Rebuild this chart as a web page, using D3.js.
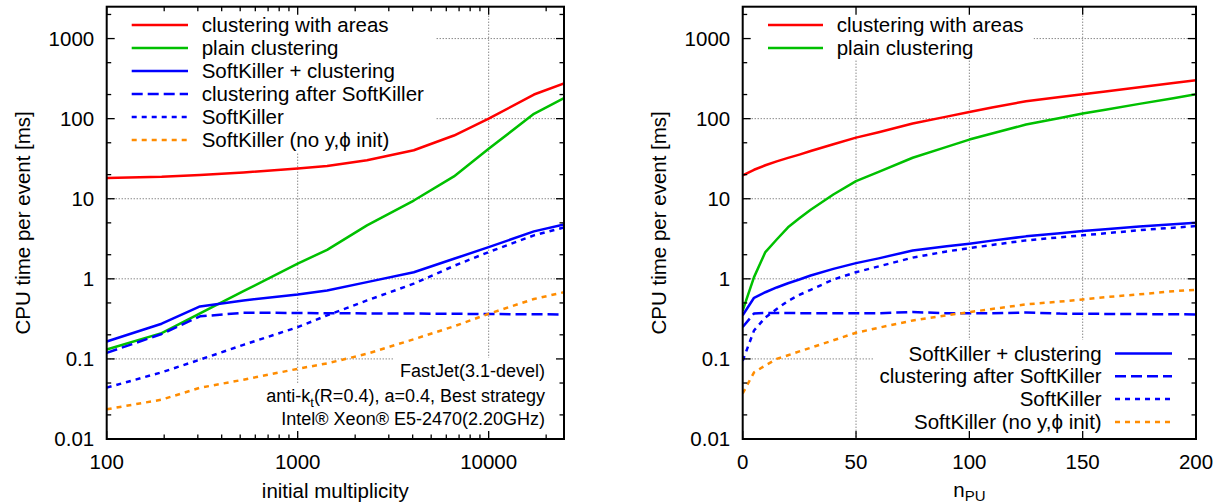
<!DOCTYPE html>
<html><head><meta charset="utf-8">
<script src="https://cdn.jsdelivr.net/npm/d3@7"></script>
<style>
body{margin:0;background:#fff}
svg{display:block}
text{font-family:"Liberation Sans",Arial,Helvetica,sans-serif;fill:#000}
</style>
</head><body>
<svg id="c" width="1228" height="504"></svg>
<script>
// ---------------- data: left panel (vs initial multiplicity) ----------------
const multiplicity   = [100, 194, 308, 520, 1000, 1426, 2306, 4055, 6580, 10000, 17260, 24800];
const leftAreas      = [18.2, 18.8, 19.8, 21.3, 23.8, 25.6, 30.2, 40.3, 61.6, 100, 200, 275];
const leftPlain      = [0.131, 0.21, 0.37, 0.70, 1.55, 2.3, 4.65, 9.5, 19, 42, 115, 180];
const leftSKClust    = [0.165, 0.275, 0.452, 0.537, 0.638, 0.716, 0.91, 1.21, 1.78, 2.49, 3.91, 4.79];
const leftAfterSK    = [0.119, 0.205, 0.34, 0.377, 0.375, 0.372, 0.37, 0.368, 0.366, 0.363, 0.361, 0.359];
const leftSK         = [0.0438, 0.068, 0.098, 0.15, 0.249, 0.35, 0.537, 0.87, 1.45, 2.16, 3.49, 4.37];
const leftSKNoInit   = [0.0235, 0.031, 0.0436, 0.055, 0.0752, 0.088, 0.116, 0.176, 0.255, 0.366, 0.56, 0.68];

// ---------------- data: right panel (vs n_PU) ----------------
const npu            = [0, 5, 10, 15, 20, 25, 30, 40, 50, 60, 75, 90, 100, 110, 125, 140, 150, 160, 175, 190, 200];
const rightAreas     = [19.6, 23, 26.2, 29.3, 32.4, 35.6, 39.4, 48, 58, 67.8, 87, 106, 121, 138, 165, 186, 202, 219, 247, 279, 302];
const rightPlain     = [0.40, 1.05, 2.16, 3.1, 4.4, 5.7, 7.3, 11.3, 16.6, 21.6, 32.5, 44.4, 54.8, 65.3, 84.4, 101.7, 116, 129, 153, 180, 202];
const rightSKClust   = [0.35, 0.58, 0.68, 0.78, 0.88, 0.98, 1.1, 1.33, 1.57, 1.8, 2.26, 2.55, 2.75, 3.0, 3.39, 3.72, 3.95, 4.15, 4.5, 4.8, 5.02];
const rightAfterSK   = [0.25, 0.37, 0.375, 0.375, 0.374, 0.373, 0.373, 0.372, 0.372, 0.372, 0.385, 0.372, 0.371, 0.371, 0.38, 0.368, 0.366, 0.365, 0.363, 0.361, 0.359];
const rightSK        = [0.095, 0.226, 0.33, 0.42, 0.53, 0.63, 0.73, 0.98, 1.21, 1.43, 1.84, 2.2, 2.42, 2.65, 3.02, 3.3, 3.49, 3.7, 4.05, 4.35, 4.56];
const rightSKNoInit  = [0.037, 0.068, 0.083, 0.1, 0.111, 0.124, 0.138, 0.171, 0.212, 0.245, 0.302, 0.35, 0.384, 0.42, 0.48, 0.52, 0.553, 0.59, 0.64, 0.70, 0.73];

// ---------------- labels & ticks ----------------
const seriesNames = ["clustering with areas", "plain clustering", "SoftKiller + clustering",
                     "clustering after SoftKiller", "SoftKiller", "SoftKiller (no y,\u03d5 init)"];
const yTicks       = [0.01, 0.1, 1, 10, 100, 1000];
const yTickLabels  = ["0.01", "0.1", "1", "10", "100", "1000"];
const leftXTicks   = [100, 1000, 10000];
const leftXLabels  = ["100", "1000", "10000"];
const rightXTicks  = [0, 50, 100, 150, 200];
const rightXLabels = ["0", "50", "100", "150", "200"];
const yTitle = "CPU time per event [ms]";
const leftXTitle = "initial multiplicity";
const annotation = ["FastJet(3.1-devel)", "anti-k_{t}(R=0.4), a=0.4, Best strategy", "Intel\u00ae Xeon\u00ae E5-2470(2.20GHz)"];

// ---------------- styles ----------------
const styles = [
  {color:"#ff0000", dash:null},
  {color:"#00c000", dash:null},
  {color:"#0000ff", dash:null},
  {color:"#0000ff", dash:"11,5"},
  {color:"#0000ff", dash:"5,5"},
  {color:"#ff8c00", dash:"5,5"}
];
const LW = 2.5;
const FS = 20.5;

const svg = d3.select("#c");
const yDomain = [0.01, 2500];
const pTop = 6.7, pBottom = 439;

function yMinor(){
  const out=[];
  for (let e=-2;e<=3;e++){ [2,5].forEach(k=>{const v=k*Math.pow(10,e); if(v<yDomain[1]) out.push(v);}); }
  return out;
}

// writes a text with _{sub} handling into a d3 text selection
function richText(t, s, fs){
  const parts = s.split(/(_\{[^}]*\})/).filter(p=>p.length);
  let shifted = 0;
  parts.forEach(p=>{
    if (p.startsWith("_{")) {
      t.append("tspan").attr("dy",5).attr("font-size",fs*0.72).text(p.slice(2,-1));
      shifted = 5;
    } else {
      const ts = t.append("tspan").text(p);
      if (shifted) { ts.attr("dy",-shifted); shifted=0; }
    }
  });
}

function panel(cfg){
  const x = cfg.x, y = d3.scaleLog().domain(yDomain).range([pBottom, pTop]);
  const [L,R] = x.range();
  const g = svg.append("g");
  const id = "clip"+cfg.key;
  g.append("clipPath").attr("id",id).append("rect").attr("x",L).attr("y",pTop).attr("width",R-L).attr("height",pBottom-pTop);

  // grid
  const gg = g.append("g").attr("stroke","#555").attr("stroke-width",1).attr("stroke-dasharray","1,2").attr("fill","none");
  cfg.xTicks.forEach(v=>{const p=x(v); if(p>L+2&&p<R-2) gg.append("line").attr("x1",p).attr("x2",p).attr("y1",pTop).attr("y2",pBottom);});
  yTicks.forEach(v=>{const p=y(v); if(p<pBottom-2&&p>pTop+2) gg.append("line").attr("x1",L).attr("x2",R).attr("y1",p).attr("y2",p);});

  const boxes = g.append("g").attr("fill","#fff");
  const curves = g.append("g").attr("clip-path",`url(#${id})`).attr("fill","none");
  const line = d3.line().x(d=>x(d[0])).y(d=>y(d[1]));
  cfg.series.forEach((s,i)=>{
    const st = styles[i];
    curves.append("path").datum(cfg.xs.map((v,j)=>[v,s[j]]))
      .attr("d",line).attr("stroke",st.color).attr("stroke-width",LW)
      .attr("stroke-dasharray",st.dash).attr("stroke-linejoin","round");
  });

  const fg = g.append("g");
  function sample(i,x1,x2,yy){
    const st=styles[i];
    fg.append("line").attr("x1",x1).attr("x2",x2).attr("y1",yy).attr("y2",yy)
      .attr("stroke",st.color).attr("stroke-width",LW).attr("stroke-dasharray",st.dash);
  }
  cfg.legend(fg, sample, boxes, L, R);

  // frame & ticks
  const ax = g.append("g").attr("stroke","#000").attr("fill","none");
  const tk = (x1,y1,x2,y2,w)=>ax.append("line").attr("x1",x1).attr("y1",y1).attr("x2",x2).attr("y2",y2).attr("stroke-width",w||1.3);
  const MJ=8, MN=4.5;
  yTicks.forEach(v=>{const p=y(v); tk(L,p,L+MJ,p); tk(R,p,R-MJ,p);});
  yMinor().forEach(v=>{const p=y(v); tk(L,p,L+MN,p); tk(R,p,R-MN,p);});
  cfg.xTicks.forEach(v=>{const p=x(v); tk(p,pBottom,p,pBottom-MJ); tk(p,pTop,p,pTop+MJ);});
  cfg.xMinor.forEach(v=>{const p=x(v); tk(p,pBottom,p,pBottom-MN); tk(p,pTop,p,pTop+MN);});
  ax.append("rect").attr("x",L).attr("y",pTop).attr("width",R-L).attr("height",pBottom-pTop).attr("stroke-width",2);

  // tick labels
  const tl = g.append("g").attr("font-size",FS);
  yTicks.forEach((v,i)=>tl.append("text").attr("x",L-12.5).attr("y",y(v)).attr("dy","0.35em").attr("text-anchor","end").text(yTickLabels[i]));
  cfg.xTicks.forEach((v,i)=>tl.append("text").attr("x",x(v)).attr("y",pBottom+23).attr("dy","0.35em").attr("text-anchor","middle").text(cfg.xLabels[i]));
  // titles
  tl.append("text").attr("transform",`translate(${L-84},${(pTop+pBottom)/2}) rotate(-90)`).attr("dy","0.35em").attr("text-anchor","middle").text(yTitle);
  cfg.xTitle(tl,(L+R)/2);
}

// ---------------- left panel ----------------
const xL = d3.scaleLog().domain([100, 24800]).range([106.7, 564]);
const leftMinor=[]; for(let e=2;e<=4;e++) for(let k=2;k<=9;k++){const v=k*Math.pow(10,e); if(v<24800) leftMinor.push(v);}
panel({
  key:"L", x:xL, xs:multiplicity,
  series:[leftAreas,leftPlain,leftSKClust,leftAfterSK,leftSK,leftSKNoInit],
  xTicks:leftXTicks, xLabels:leftXLabels, xMinor:leftMinor,
  xTitle:(tl,cx)=>tl.append("text").attr("x",cx).attr("y",498).attr("text-anchor","middle").text(leftXTitle),
  legend:(fg,sample,boxes,L,R)=>{
    let maxR=0;
    seriesNames.forEach((n,i)=>{
      const yy = 25 + i*23;
      sample(i,131.7,188,yy);
      const t=fg.append("text").attr("x",201.7).attr("y",yy).attr("dy","0.35em").attr("font-size",FS).text(n);
      maxR=Math.max(maxR,201.7+t.node().getComputedTextLength());
    });
    boxes.append("rect").attr("x",L).attr("y",pTop).attr("width",maxR+12-L).attr("height",25+5*23+12-pTop);
    const base=[377,402,425];
    annotation.forEach((s,i)=>{
      const t=fg.append("text").attr("x",545).attr("y",base[i]).attr("text-anchor","end").attr("font-size",18);
      richText(t,s,18);
      const bb=t.node().getBBox();
      boxes.append("rect").attr("x",bb.x-6).attr("y",bb.y-3).attr("width",R-(bb.x-6)).attr("height",bb.height+5);
    });
  }
});

// ---------------- right panel ----------------
const xR = d3.scaleLinear().domain([0,200]).range([742.7, 1196]);
panel({
  key:"R", x:xR, xs:npu,
  series:[rightAreas,rightPlain,rightSKClust,rightAfterSK,rightSK,rightSKNoInit],
  xTicks:rightXTicks, xLabels:rightXLabels, xMinor:[],
  xTitle:(tl,cx)=>{
    const t=tl.append("text").attr("x",cx).attr("y",496.5).attr("text-anchor","middle");
    t.append("tspan").text("n");
    t.append("tspan").attr("dy",4.5).attr("font-size",15).text("PU");
  },
  legend:(fg,sample,boxes,L,R)=>{
    let maxR=0;
    [0,1].forEach((i,k)=>{
      const yy=25+k*23;
      sample(i,768,823,yy);
      const t=fg.append("text").attr("x",836.7).attr("y",yy).attr("dy","0.35em").attr("font-size",FS).text(seriesNames[i]);
      maxR=Math.max(maxR,836.7+t.node().getComputedTextLength());
    });
    boxes.append("rect").attr("x",L).attr("y",pTop).attr("width",maxR+10-L).attr("height",25+23+11-pTop);
    let minL=1e9;
    [2,3,4,5].forEach((i,k)=>{
      const yy=353.5+k*22.8;
      sample(i,1115,1172,yy);
      const t=fg.append("text").attr("x",1101.7).attr("y",yy).attr("dy","0.35em").attr("text-anchor","end").attr("font-size",FS).text(seriesNames[i]);
      minL=Math.min(minL,1101.7-t.node().getComputedTextLength());
    });
    boxes.append("rect").attr("x",minL-6).attr("y",340).attr("width",R-(minL-6)).attr("height",pBottom-340);
  }
});
</script>
</body></html>
